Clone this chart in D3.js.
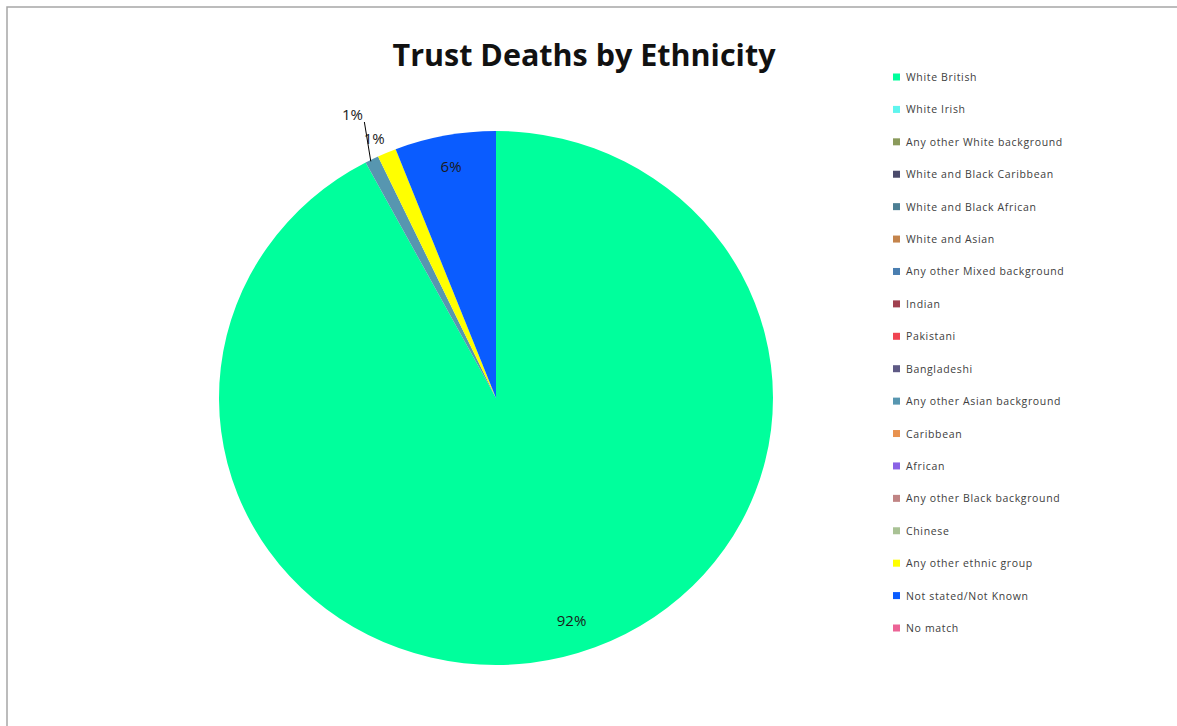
<!DOCTYPE html>
<html>
<head>
<meta charset="utf-8">
<script src="https://cdn.jsdelivr.net/npm/d3@7/dist/d3.min.js"></script>
<style>
  html, body { margin: 0; padding: 0; background: #fff; }
  svg { display: block; }
</style>
</head>
<body>
<svg id="chart" width="1177" height="726"></svg>
<script>
// Ethnic groups, in legend order
const categories = [
  "White British", "White Irish", "Any other White background",
  "White and Black Caribbean", "White and Black African", "White and Asian",
  "Any other Mixed background", "Indian", "Pakistani", "Bangladeshi",
  "Any other Asian background", "Caribbean", "African",
  "Any other Black background", "Chinese", "Any other ethnic group",
  "Not stated/Not Known", "No match"
];
// Share of deaths (%) per group
const values = [92.2, 0, 0, 0, 0, 0, 0, 0, 0, 0, 0.8, 0, 0, 0, 0, 1.1, 5.9, 0];
const colors = [
  "#00ff9c", "#5ff5ee", "#8a9a5b", "#4b4b6b", "#4d7f94", "#c4844c",
  "#4a7eb0", "#a0404f", "#f04452", "#5e5a85", "#5796b0", "#e8924f",
  "#8a62e6", "#c08484", "#a9c295", "#ffff00", "#0a5cff", "#ec6496"
];
const title = "Trust Deaths by Ethnicity";

const svg = d3.select("#chart");

// Outer frame
svg.append("rect")
  .attr("x", 7).attr("y", 7)
  .attr("width", 1200).attr("height", 760)
  .attr("fill", "none").attr("stroke", "#a6a6a6").attr("stroke-width", 1.5);

// Title
svg.append("text")
  .attr("x", 584).attr("y", 66)
  .attr("text-anchor", "middle")
  .attr("font-family", "'Open Sans', sans-serif")
  .attr("font-weight", "bold")
  .attr("font-size", 31)
  .attr("fill", "#111")
  .attr("textLength", 383)
  .attr("lengthAdjust", "spacingAndGlyphs")
  .text(title);

// Pie (slightly wider than tall)
const cx = 496, cy = 398, rx = 277, ry = 267;
const total = d3.sum(values);
const data = categories.map((c, i) => ({ name: c, value: values[i], color: colors[i] }));

const pie = d3.pie().value(d => d.value).sort(null);
const arcs = pie(data);
const arc = d3.arc().innerRadius(0).outerRadius(ry);

const g = svg.append("g")
  .attr("transform", `translate(${cx},${cy}) scale(${rx / ry},1)`);

g.selectAll("path")
  .data(arcs.filter(a => a.data.value > 0))
  .join("path")
  .attr("d", arc)
  .attr("fill", d => d.data.color);

// Point on the ellipse at a given angle (clockwise from 12 o'clock) and radius factor
function pt(angle, k) {
  return [cx + Math.sin(angle) * rx * k, cy - Math.cos(angle) * ry * k];
}
const pctFmt = v => Math.round(v / total * 100) + "%";
const labelFont = "'Open Sans', sans-serif";

const shown = arcs.filter(a => a.data.value > 0);
shown.forEach(a => {
  const mid = (a.startAngle + a.endAngle) / 2;
  const share = a.data.value / total;
  if (share >= 0.03) {
    // inside label; the large slice's label sits a little toward its leading edge
    const ang = share > 0.5 ? mid - 0.07 : mid;
    const [x, y] = pt(ang, 0.88);
    svg.append("text")
      .attr("x", x).attr("y", y + 5)
      .attr("text-anchor", "middle")
      .attr("font-family", labelFont).attr("font-size", 15)
      .attr("fill", "#1a1a1a")
      .text(pctFmt(a.data.value));
  }
});

// Small slices: labels outside, the first with a leader line
const small = shown.filter(a => a.data.value / total < 0.03);
small.forEach((a, i) => {
  const mid = (a.startAngle + a.endAngle) / 2;
  if (i === 0) {
    const [lx, ly] = pt(mid + 0.01, 1.18);
    svg.append("text")
      .attr("x", lx).attr("y", ly + 5)
      .attr("text-anchor", "middle")
      .attr("font-family", labelFont).attr("font-size", 15)
      .attr("fill", "#1a1a1a")
      .text(pctFmt(a.data.value));
    const [ex, ey] = pt(mid, 1.0);
    svg.append("line")
      .attr("x1", lx + 12).attr("y1", ly + 7)
      .attr("x2", ex - 1).attr("y2", ey + 2)
      .attr("stroke", "#000").attr("stroke-width", 1);
  } else {
    const [lx, ly] = pt(mid - 0.02, 1.065);
    svg.append("text")
      .attr("x", lx).attr("y", ly + 5)
      .attr("text-anchor", "middle")
      .attr("font-family", labelFont).attr("font-size", 15)
      .attr("fill", "#1a1a1a")
      .text(pctFmt(a.data.value));
  }
});

// Legend
const legendY = d3.scalePoint().domain(categories).range([77, 628]);
const legend = svg.append("g");
const items = legend.selectAll("g")
  .data(data)
  .join("g")
  .attr("transform", d => `translate(893,${legendY(d.name)})`);
items.append("rect")
  .attr("x", 0).attr("y", -3.5)
  .attr("width", 7).attr("height", 7)
  .attr("fill", d => d.color);
items.append("text")
  .attr("x", 13).attr("y", 4)
  .attr("font-family", labelFont)
  .attr("font-size", 10.5)
  .attr("letter-spacing", 0.65)
  .attr("fill", "#404040")
  .text(d => d.name);
</script>
</body>
</html>
